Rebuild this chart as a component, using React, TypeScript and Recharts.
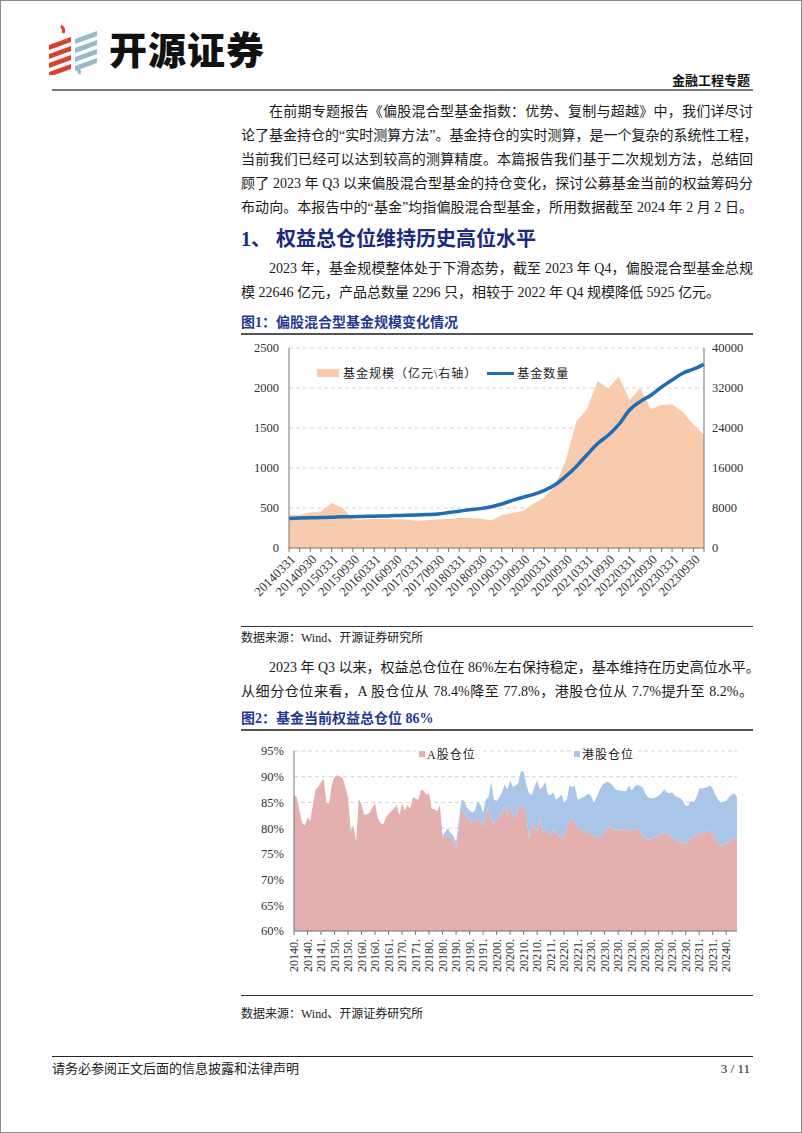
import React from 'react';
import { ComposedChart, AreaChart, Area, Line, XAxis, YAxis, CartesianGrid, Legend } from 'recharts';

// ---------- Chart 1 data ----------
const quarterDates = [
  '20140331','20140630','20140930','20141231','20150331','20150630','20150930','20151231',
  '20160331','20160630','20160930','20161231','20170331','20170630','20170930','20171231',
  '20180331','20180630','20180930','20181231','20190331','20190630','20190930','20191231',
  '20200331','20200630','20200930','20201231','20210331','20210630','20210930','20211231',
  '20220331','20220630','20220930','20221231','20230331','20230630','20230930','20231231',
];
const fundCount = [
  370, 375, 378, 380, 383, 390, 392, 395, 398, 400,
  405, 408, 412, 418, 425, 443, 460, 478, 492, 515,
  550, 595, 635, 670, 720, 790, 895, 1020, 1165, 1305,
  1410, 1545, 1725, 1830, 1910, 2010, 2100, 2185, 2235, 2296,
];
const fundScale = [
  6600, 6600, 7100, 7300, 8980, 8100, 5700, 5700, 5900, 5800,
  5750, 5700, 5450, 5550, 5750, 5800, 6000, 6000, 5900, 5500,
  6600, 7000, 7450, 8850, 10100, 12500, 17400, 25300, 27800, 33400,
  31900, 34300, 29600, 31900, 27800, 28580, 28760, 27200, 24700, 22646,
];
const leftTicks1 = [0, 500, 1000, 1500, 2000, 2500];
const rightTicks1 = [0, 8000, 16000, 24000, 32000, 40000];

// ---------- Chart 2 data ----------
const aShare = [
  86.5, 86, 83.5, 81, 80.5, 82, 81.5, 84.5, 87.5, 88,
  89, 89.5, 85, 84.8, 88.5, 90, 90.3, 90, 89.8, 88,
  86, 79.5, 80.5, 77.3, 85.7, 84.5, 82.5, 82.7, 83, 84,
  84.8, 82, 81, 80.7, 82, 82.8, 83.3, 83.8, 84.5, 82.5,
  84.8, 83.5, 84.5, 83.7, 86, 85.7, 85.5, 87.5, 87.2, 86.5,
  86.8, 83.7, 83.7, 83.3, 84.5, 78, 78.3, 78.5, 78, 77.5,
  75.8, 80, 83.5, 83, 82, 81.5, 81, 81.5, 82, 81,
  80.5, 82.5, 84, 81.5, 81, 81.5, 82, 83, 84.5, 82,
  84.5, 82.5, 82, 84, 84.5, 84, 82.5, 78, 80.5, 80,
  79.5, 82, 79, 80, 79, 78.5, 80, 79, 78.5, 78,
  78.5, 80, 81.5, 82, 81, 80, 79.8, 79.5,
  // weekly from 2023-01-06
  79.2, 79, 78.8, 78.5, 78, 78.2, 78.5, 79.5, 80, 80.3,
  80, 79.5, 79.5, 79.8, 79.5, 80, 79, 79.5, 79.7, 80,
  79.5, 78.5, 78, 77.8, 77.8, 78, 78.2, 78.5, 78.7, 79.3,
  79, 78.5, 78, 77.8, 77.5, 77.3, 77.2, 76.8, 77.5, 78,
  78.5, 78.6, 78.8, 79, 79, 79.3, 79.5, 78.8, 78, 77,
  76.5, 76.8, 77, 77.3, 77.6, 78.2, 77.8,
];
const hkShare = [
  0, 0, 0, 0, 0, 0, 0, 0, 0, 0,
  0, 0, 0, 0, 0, 0, 0, 0, 0, 0,
  0, 0, 0, 0, 0, 0, 0, 0, 0, 0,
  0, 0, 0, 0, 0, 0, 0, 0, 0, 0,
  0, 0, 0, 0, 0, 0, 0, 0, 0, 0,
  0, 0, 0, 0, 0, 0.5, 1.0, 1.5, 1.0, 1.0,
  1.5, 1.5, 2.0, 2.3, 2.0, 2.0, 2.0, 2.0, 3.2, 3.5,
  2.5, 3.0, 2.0, 7.5, 4.5, 3.8, 4.0, 4.0, 4.0, 5.5,
  4.8, 5.5, 6.3, 4.7, 6.5, 7.0, 6.0, 8.8, 6.0, 8.0,
  9.8, 5.5, 9.0, 9.0, 7.5, 8.0, 7.0, 6.5, 7.5, 8.5,
  6.5, 5.5, 6.8, 6.0, 7.2, 5.5, 5.9, 6.5,
  // weekly from 2023-01-06
  7.1, 7.7, 7.4, 6.5, 8.0, 9.0, 9.8, 9.3, 9.0, 8.5,
  8.3, 8.0, 7.8, 7.5, 7.7, 7.2, 9.3, 7.8, 8.3, 8.5,
  8.7, 9.5, 8.8, 8.2, 8.0, 7.8, 7.8, 7.8, 8.1, 8.2,
  8.0, 8.3, 9.0, 8.5, 8.5, 8.5, 8.1, 7.5, 7.0, 7.3,
  6.5, 7.4, 8.9, 8.7, 8.8, 8.7, 8.8, 8.9, 8.5, 8.5,
  8.5, 8.4, 8.3, 8.7, 8.9, 8.6, 8.2,
];
const pctTicks2 = [60, 65, 70, 75, 80, 85, 90, 95];

// calendar categories for chart 2: month-ends 2014-2022, then weekly Fridays to 2024-02-02
const pad = (n: number) => (n < 10 ? '0' + n : '' + n);
const fmt = (dt: Date) => `${dt.getFullYear()}${pad(dt.getMonth() + 1)}${pad(dt.getDate())}`;
const monthDates: string[] = [];
for (let y = 2014; y <= 2022; y++) for (let m = 1; m <= 12; m++) monthDates.push(fmt(new Date(y, m, 0)));
const weekDates: string[] = [];
for (let j = 0; j < 57; j++) weekDates.push(fmt(new Date(2023, 0, 6 + 7 * j)));
const dates2 = [...monthDates, ...weekDates];

const data1 = quarterDates.map((d, i) => ({ d, count: fundCount[i], scale: fundScale[i] }));
const data2 = dates2.map((d, i) => ({ d, a: aShare[i], hk: hkShare[i] }));

const SERIF = "'Liberation Serif', 'Noto Sans CJK SC', serif";
const BODY = "'Liberation Serif', 'Noto Sans CJK SC', serif";

const QTick = (props: any) => {
  const { x, y, payload, index } = props;
  if (index % 2 !== 0) return <g />;
  return (
    <text x={x + 4} y={y + 3} transform={`rotate(-45, ${x + 4}, ${y + 3})`} textAnchor="end"
      fontSize={13} fill="#333" fontFamily={SERIF} dominantBaseline="central">
      {payload.value}
    </text>
  );
};

const VTick = (props: any) => {
  const { x, y, payload } = props;
  return (
    <text x={x} y={y + 2} transform={`rotate(-90, ${x}, ${y + 2})`} textAnchor="end"
      fontSize={12} fill="#333" fontFamily={SERIF} dominantBaseline="central">
      {String(payload.value).slice(0, 5) + '.'}
    </text>
  );
};

const Legend1 = () => (
  <div style={{ display: 'flex', alignItems: 'center', fontSize: 12, color: '#222', fontFamily: BODY, whiteSpace: 'nowrap' }}>
    <span style={{ display: 'inline-block', width: 22, height: 8, background: '#F8CBAD', marginRight: 4 }} />
    <span style={{ letterSpacing: 1 }}>{'基金规模（亿元\\右轴）'}</span>
    <span style={{ display: 'inline-block', width: 27, height: 3, background: '#1F6DB4', marginLeft: 10, marginRight: 3 }} />
    <span style={{ letterSpacing: 1 }}>基金数量</span>
  </div>
);

const Legend2 = () => (
  <div style={{ position: 'relative', width: 512, height: 16, fontSize: 12, color: '#222', fontFamily: BODY }}>
    <div style={{ position: 'absolute', left: 175, top: 0, background: '#fff', padding: '0 3px', display: 'flex', alignItems: 'center', whiteSpace: 'nowrap' }}>
      <span style={{ display: 'inline-block', width: 6, height: 6, background: '#E3AFAF', marginRight: 2 }} />
      <span style={{ letterSpacing: 1 }}>A股仓位</span>
    </div>
    <div style={{ position: 'absolute', left: 330, top: 0, background: '#fff', padding: '0 3px', display: 'flex', alignItems: 'center', whiteSpace: 'nowrap' }}>
      <span style={{ display: 'inline-block', width: 6, height: 6, background: '#A9C5E8', marginRight: 2 }} />
      <span style={{ letterSpacing: 1 }}>港股仓位</span>
    </div>
  </div>
);

const Line1 = ({ top, children, indent = false, justify = true, style = {} }: any) => (
  <div style={{
    position: 'absolute', top, left: indent ? 268 : 240, width: indent ? 484 : 512, height: 24, lineHeight: '24px',
    fontSize: 14, color: '#1a1a1a', textAlign: justify ? 'justify' : 'left', textAlignLast: justify ? 'justify' : 'left',
    whiteSpace: 'nowrap', ...style,
  }}>{children}</div>
);

const Logo = () => (
  <svg width={60} height={52} style={{ position: 'absolute', left: 44, top: 22 }}>
    <path d="M16 3 Q20 6 18 10" stroke="#D9412E" strokeWidth={3} fill="none" />
    {[0, 1, 2, 3].map(k => (
      <polygon key={'r' + k} points={`${4},${22 + k * 9} ${26},${14 + k * 9} ${26},${19 + k * 9} ${4},${27 + k * 9}`} fill="#D9412E" />
    ))}
    {[0, 1, 2, 3].map(k => (
      <polygon key={'b' + k} points={`${30},${16 + k * 9} ${52},${8 + k * 9} ${52},${13 + k * 9} ${30},${21 + k * 9}`} fill="#9CB7C6" />
    ))}
    <path d="M32 48 Q36 46 34 51" stroke="#9CB7C6" strokeWidth={3} fill="none" />
  </svg>
);

export default function App() {
  return (
    <div style={{ position: 'absolute', left: 0, top: 0, width: 802, height: 1133, boxSizing: 'border-box', border: '1px solid #8a8a8a', background: '#fff', fontFamily: BODY, overflow: 'hidden' }}>
      <Logo />
      <div style={{ position: 'absolute', left: 108, top: 24, fontSize: 38, lineHeight: '46px', fontWeight: 900, fontFamily: "'Noto Sans CJK SC'", color: '#111', letterSpacing: 1 }}>开源证券</div>
      <div style={{ position: 'absolute', right: 51, top: 72, fontSize: 13, lineHeight: '16px', fontWeight: 700, color: '#111' }}>金融工程专题</div>
      <div style={{ position: 'absolute', left: 51, top: 88, width: 701, height: 2, background: '#777' }} />

      <Line1 top={99} indent>在前期专题报告《偏股混合型基金指数：优势、复制与超越》中，我们详尽讨</Line1>
      <Line1 top={123}>论了基金持仓的“实时测算方法”。基金持仓的实时测算，是一个复杂的系统性工程，</Line1>
      <Line1 top={147}>当前我们已经可以达到较高的测算精度。本篇报告我们基于二次规划方法，总结回</Line1>
      <Line1 top={171}>顾了 2023 年 Q3 以来偏股混合型基金的持仓变化，探讨公募基金当前的权益筹码分</Line1>
      <Line1 top={195}>布动向。本报告中的“基金”均指偏股混合型基金，所用数据截至 2024 年 2 月 2 日。</Line1>

      <div style={{ position: 'absolute', left: 240, top: 224, fontSize: 20, lineHeight: '28px', fontWeight: 700, color: '#1B2A7E', whiteSpace: 'nowrap' }}>1、 权益总仓位维持历史高位水平</div>

      <Line1 top={256} indent>2023 年，基金规模整体处于下滑态势，截至 2023 年 Q4，偏股混合型基金总规</Line1>
      <Line1 top={280} justify={false}>模 22646 亿元，产品总数量 2296 只，相较于 2022 年 Q4 规模降低 5925 亿元。</Line1>

      <div style={{ position: 'absolute', left: 240, top: 312, fontSize: 14, lineHeight: '20px', fontWeight: 700, color: '#1F3A93', whiteSpace: 'nowrap' }}>图1：偏股混合型基金规模变化情况</div>
      <div style={{ position: 'absolute', left: 240, top: 332, width: 512, height: 2, background: '#555' }} />

      <div style={{ position: 'absolute', left: 240, top: 335 }}>
        <ComposedChart width={512} height={290} data={data1} margin={{ top: 12, right: 0, bottom: 0, left: 0 }}>
          <CartesianGrid yAxisId="left" vertical={false} stroke="#d4d4d4" strokeDasharray="4 3" />
          <XAxis dataKey="d" interval={0} tick={<QTick />} tickLine={{ stroke: '#777' }} tickSize={4}
            axisLine={{ stroke: '#777' }} height={60} />
          <YAxis yAxisId="left" orientation="left" domain={[0, 2500]} ticks={leftTicks1} width={48}
            tick={{ fontSize: 12.5, fill: '#333', fontFamily: SERIF }} tickLine={false} axisLine={{ stroke: '#777' }} tickMargin={4} />
          <YAxis yAxisId="right" orientation="right" domain={[0, 40000]} ticks={rightTicks1} width={49}
            tick={{ fontSize: 12.5, fill: '#333', fontFamily: SERIF, textAnchor: 'start' }} tickLine={false} axisLine={{ stroke: '#777' }} tickMargin={2} />
          <Area yAxisId="right" dataKey="scale" type="linear" stroke="none" fill="#F8CBAD" fillOpacity={1} isAnimationActive={false} />
          <Line yAxisId="left" dataKey="count" type="monotone" stroke="#1F6DB4" strokeWidth={3.5} dot={false} isAnimationActive={false} />
          <Legend content={<Legend1 />} wrapperStyle={{ position: 'absolute', top: 28, left: 76, width: 320 }} />
        </ComposedChart>
      </div>

      <div style={{ position: 'absolute', left: 240, top: 625, width: 512, height: 1, background: '#333' }} />
      <div style={{ position: 'absolute', left: 240, top: 629, fontSize: 12, lineHeight: '16px', color: '#222', whiteSpace: 'nowrap' }}>数据来源：Wind、开源证券研究所</div>

      <Line1 top={655} indent>2023 年 Q3 以来，权益总仓位在 86%左右保持稳定，基本维持在历史高位水平。</Line1>
      <Line1 top={679}>从细分仓位来看，A 股仓位从 78.4%降至 77.8%，港股仓位从 7.7%提升至 8.2%。</Line1>

      <div style={{ position: 'absolute', left: 240, top: 708, fontSize: 14, lineHeight: '20px', fontWeight: 700, color: '#1F3A93', whiteSpace: 'nowrap' }}>图2：基金当前权益总仓位 86%</div>
      <div style={{ position: 'absolute', left: 240, top: 728, width: 512, height: 2, background: '#555' }} />

      <div style={{ position: 'absolute', left: 240, top: 738 }}>
        <AreaChart width={512} height={253} data={data2} margin={{ top: 12, right: 16, bottom: 0, left: 0 }}>
          <CartesianGrid vertical={false} stroke="#d4d4d4" strokeDasharray="4 3" />
          <XAxis dataKey="d" interval={4} tick={<VTick />} tickLine={{ stroke: '#777' }} tickSize={4}
            axisLine={{ stroke: '#777' }} height={45} />
          <YAxis domain={[60, 95]} ticks={pctTicks2} allowDataOverflow width={53} tickFormatter={(v: number) => v + '%'}
            tick={{ fontSize: 12.5, fill: '#333', fontFamily: SERIF }} tickLine={false} axisLine={{ stroke: '#777' }} tickMargin={4} />
          <Area dataKey="a" stackId="s" type="linear" stroke="none" fill="#E3AFAF" fillOpacity={1} isAnimationActive={false} />
          <Area dataKey="hk" stackId="s" type="linear" stroke="none" fill="#A9C5E8" fillOpacity={1} isAnimationActive={false} />
          <Legend content={<Legend2 />} wrapperStyle={{ position: 'absolute', top: 6, left: 0, width: 512 }} />
        </AreaChart>
      </div>

      <div style={{ position: 'absolute', left: 240, top: 994, width: 512, height: 1, background: '#333' }} />
      <div style={{ position: 'absolute', left: 240, top: 1005, fontSize: 12, lineHeight: '16px', color: '#222', whiteSpace: 'nowrap' }}>数据来源：Wind、开源证券研究所</div>

      <div style={{ position: 'absolute', left: 51, top: 1055, width: 701, height: 1, background: '#222' }} />
      <div style={{ position: 'absolute', left: 51, top: 1060, fontSize: 13, lineHeight: '16px', color: '#222', whiteSpace: 'nowrap' }}>请务必参阅正文后面的信息披露和法律声明</div>
      <div style={{ position: 'absolute', right: 51, top: 1060, fontSize: 13, lineHeight: '16px', color: '#222', whiteSpace: 'nowrap' }}>3 / 11</div>
    </div>
  );
}
